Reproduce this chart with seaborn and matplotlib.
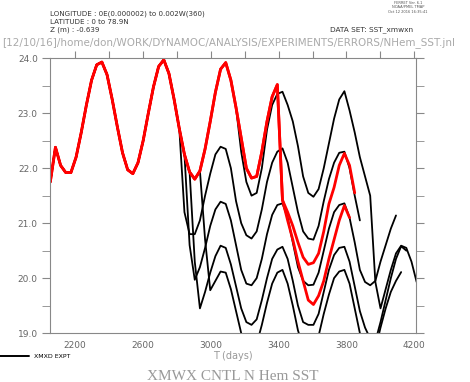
import numpy as np
import pandas as pd
import matplotlib
matplotlib.use("Agg")
import matplotlib.pyplot as plt
import seaborn as sns

# monthly time axis (days)
days = 2055 + 30.4 * np.arange(72)

# shared control cycle, months 0..43
base = [21.75, 22.38, 22.05, 21.92, 21.92, 22.2, 22.65, 23.15, 23.6, 23.88,
        23.93, 23.7, 23.25, 22.75, 22.28, 21.97, 21.9, 22.1, 22.5, 23.0,
        23.48, 23.85, 23.97, 23.72, 23.25, 22.72, 22.25, 21.93, 21.8, 21.95,
        22.35, 22.85, 23.38, 23.8, 23.92, 23.6, 23.1, 22.55, 22.0, 21.82,
        21.85, 22.3, 22.85, 23.3]

# XMXD EXPT runs (black), branching off the control
expt_0 = base[:37] + [22.3, 21.75, 21.5, 21.55, 22.0, 22.7, 23.15, 23.35, 23.39,
                      23.15, 22.85, 22.4, 21.85, 21.55, 21.48, 21.62, 22.0, 22.45,
                      22.9, 23.25, 23.4, 23.05, 22.65, 22.2, 21.85, 21.5, 19.93,
                      19.45, 19.8, 20.15, 20.45, 20.59, 20.55, 20.3, 19.93]
expt_1 = base[:26] + [21.2, 20.8, 20.8, 21.05, 21.5, 21.9, 22.25, 22.39, 22.35,
                      22.0, 21.4, 21.0, 20.78, 20.72, 20.85, 21.25, 21.75, 22.1,
                      22.3, 22.36, 22.1, 21.65, 21.2, 20.85, 20.72, 20.7, 20.95,
                      21.4, 21.8, 22.1, 22.28, 22.3, 22.0, 21.5, 21.05]
expt_2 = base[:27] + [20.6, 19.97, 20.2, 20.55, 20.95, 21.25, 21.39, 21.35, 21.05,
                      20.6, 20.15, 19.9, 19.87, 20.0, 20.35, 20.8, 21.15, 21.33,
                      21.36, 21.1, 20.65, 20.2, 19.95, 19.87, 19.88, 20.1, 20.5,
                      20.9, 21.2, 21.33, 21.36, 21.1, 20.65, 20.15, 19.93, 19.87,
                      19.95, 20.3, 20.6, 20.9, 21.14]
expt_3 = base[:28] + [20.3, 19.45, 19.75, 20.1, 20.4, 20.59, 20.55, 20.25, 19.85,
                      19.45, 19.2, 19.15, 19.25, 19.6, 20.0, 20.35, 20.52, 20.57,
                      20.35, 19.95, 19.5, 19.2, 19.15, 19.15, 19.35, 19.75, 20.15,
                      20.42, 20.55, 20.57, 20.3, 19.85, 19.4, 19.1, 18.9, 18.85,
                      19.2, 19.6, 20.0, 20.35, 20.58, 20.5]
expt_4 = base[:30] + [20.7, 19.78, 19.95, 20.12, 20.1, 19.8, 19.4, 19.0, 18.75,
                      18.7, 18.8, 19.15, 19.55, 19.9, 20.1, 20.15, 19.9, 19.5,
                      19.05, 18.75, 18.7, 18.75, 18.95, 19.35, 19.7, 20.0, 20.12,
                      20.15, 19.9, 19.45, 19.0, 18.7, 18.55, 18.7, 19.1, 19.45,
                      19.75, 19.95, 20.11]

# control runs (red)
cntl_a = base + [23.52, 21.42, 21.2, 20.95, 20.65, 20.38, 20.25, 20.28, 20.45,
                 20.85, 21.35, 21.65, 22.05, 22.27, 22.05, 21.55]
cntl_b = base + [23.52, 21.42, 21.05, 20.7, 20.3, 19.95, 19.6, 19.52, 19.68,
                 19.95, 20.35, 20.7, 21.05, 21.32, 21.1]

def frame(runs):
    parts = []
    for name, vals in runs.items():
        parts.append(pd.DataFrame({"day": days[:len(vals)], "sst": vals, "run": name}))
    return pd.concat(parts, ignore_index=True)

black = frame({"e0": expt_0, "e1": expt_1, "e2": expt_2, "e3": expt_3, "e4": expt_4})
red = frame({"a": cntl_a, "b": cntl_b})

sns.set_style("white")
fig = plt.figure(figsize=(4.7, 3.82), dpi=100)
ax = fig.add_axes([0.107, 0.128, 0.7775, 0.7196])

sns.lineplot(data=black, x="day", y="sst", units="run", estimator=None,
             color="black", lw=1.3, ax=ax, legend=False)
sns.lineplot(data=red, x="day", y="sst", units="run", estimator=None,
             color="red", lw=2.0, ax=ax, legend=False)

ax.set_xlim(2055, 4208)
ax.set_ylim(19, 24)
gray = "#888888"
for s in ax.spines.values():
    s.set_color(gray)
    s.set_linewidth(0.8)

ax.set_xticks([2200, 2600, 3000, 3400, 3800, 4200])
ax.set_xticks([2400, 2800, 3200, 3600, 4000], minor=True)
ax.tick_params(axis="x", which="major", length=0, pad=6, labelsize=6.5, labelcolor="#666666")
ax.tick_params(axis="x", which="minor", length=5, color=gray, direction="out")
top = ax.secondary_xaxis("top")
top.set_xticks(np.arange(2200, 4201, 200))
top.tick_params(length=5, color=gray, direction="out", labeltop=False)
top.spines["top"].set_visible(False)

ax.set_yticks([19, 20, 21, 22, 23, 24])
ax.set_yticks(np.arange(19.5, 24, 1.0), minor=True)
ax.set_yticklabels(["19.0", "20.0", "21.0", "22.0", "23.0", "24.0"])
ax.tick_params(axis="y", which="both", left=True, right=True, direction="out",
               length=6, color=gray, labelsize=6.5, labelcolor="#666666", pad=3)
ax.set_xlabel("")
ax.set_ylabel("")

W, H = 470.0, 382.0
def put(x, y, s, **kw):
    fig.text(x / W, 1 - y / H, s, **kw)

put(233, 356, "T (days)", ha="center", va="center", fontsize=7, color="#999999")
put(233, 376, "XMWX CNTL N Hem SST", ha="center", va="center", fontsize=11,
    color="#999999", family="Liberation Serif")
fig.add_artist(plt.Line2D([0, 29 / W], [1 - 356 / H, 1 - 356 / H], color="black", lw=1.4))
put(34, 356, "XMXD EXPT", ha="left", va="center", fontsize=4.5, color="black")

put(50, 14, "LONGITUDE : 0E(0.000002) to 0.002W(360)", ha="left", va="center", fontsize=5.1, color="#333333")
put(50, 22, "LATITUDE : 0 to 78.9N", ha="left", va="center", fontsize=5.1, color="#333333")
put(50, 30, "Z (m) : -0.639", ha="left", va="center", fontsize=5.1, color="#333333")
put(330, 30, "DATA SET: SST_xmwxn", ha="left", va="center", fontsize=5.3, color="#333333")
put(408, 3, "FERRET Ver. 6.1", ha="center", va="center", fontsize=2.6, color="#555555")
put(408, 7.5, "NOAA/PMEL TMAP", ha="center", va="center", fontsize=2.6, color="#555555")
put(408, 12, "Oct 12 2016 16:35:41", ha="center", va="center", fontsize=2.6, color="#555555")
put(2, 43, "[12/10/16]/home/don/WORK/DYNAMOC/ANALYSIS/EXPERIMENTS/ERRORS/NHem_SST.jnl",
    ha="left", va="center", fontsize=7.5, color="#aaaaaa")

fig.savefig("out.png", dpi=100)
